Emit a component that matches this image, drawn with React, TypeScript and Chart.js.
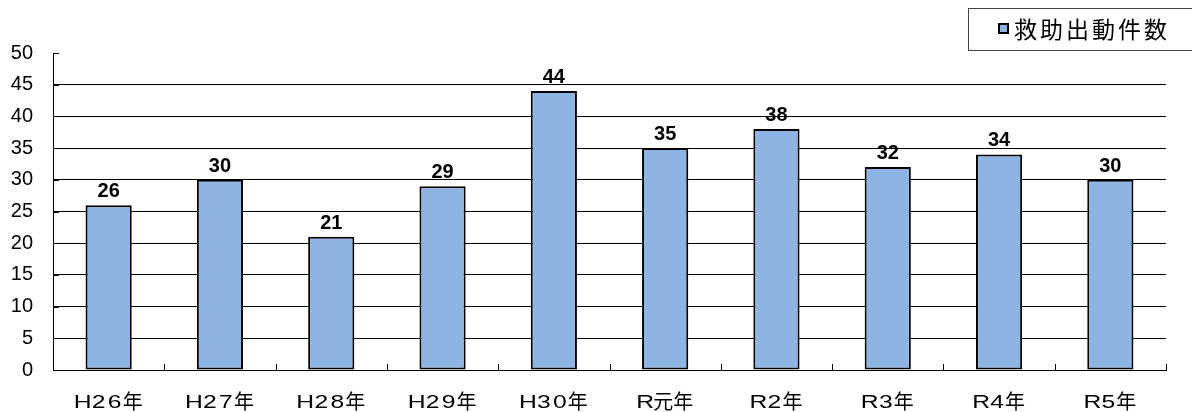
import React, { useEffect, useRef } from "react";
import { Chart, registerables } from "chart.js";

Chart.register(...registerables);

const categories = ["H26年", "H27年", "H28年", "H29年", "H30年", "R元年", "R2年", "R3年", "R4年", "R5年"];
const rescueCounts = [26, 30, 21, 29, 44, 35, 38, 32, 34, 30];
const seriesName = "救助出動件数";
const yMin = 0;
const yMax = 50;
const yStep = 5;

const FONT_LATIN = "'Liberation Sans', Arial, sans-serif";
const FONT_JP = "'Noto Sans CJK JP', sans-serif";

function drawSpacedLabel(ctx: any, text: string, cx: number, cy: number) {
  const chars = Array.from(text);
  const isAscii = chars.map((c) => c.charCodeAt(0) < 128);
  const adv = isAscii.map((a) => (a ? 16 : 20));
  const total = adv.reduce((a, b) => a + b, 0);
  let x = cx - total / 2;
  ctx.textAlign = "center";
  ctx.textBaseline = "alphabetic";
  chars.forEach((c, i) => {
    const mid = x + adv[i] / 2;
    if (isAscii[i]) {
      ctx.save();
      ctx.font = `19px ${FONT_LATIN}`;
      ctx.translate(mid, cy + 7);
      ctx.scale(1.3, 1);
      ctx.fillText(c, 0, 0);
      ctx.restore();
    } else {
      ctx.font = `20px ${FONT_JP}`;
      ctx.fillText(c, mid, cy + 8);
    }
    x += adv[i];
  });
}

const extrasPlugin = {
  id: "extras",
  afterDatasetsDraw(chart: any) {
    const ctx = chart.ctx;
    const area = chart.chartArea;
    const xs = chart.scales.x;
    const ys = chart.scales.y;
    ctx.save();
    // inner tick marks
    ctx.strokeStyle = "#000";
    ctx.lineWidth = 1;
    ctx.beginPath();
    for (let v = yMin; v <= yMax; v += yStep) {
      const y = Math.round(ys.getPixelForValue(v)) + 0.5;
      ctx.moveTo(area.left, y);
      ctx.lineTo(area.left + 6, y);
    }
    const n = categories.length;
    for (let i = 1; i <= n; i++) {
      const x = Math.round(area.left + ((area.right - area.left) * i) / n) + 0.5;
      ctx.moveTo(x, area.bottom);
      ctx.lineTo(x, area.bottom - 6);
    }
    ctx.stroke();
    // x labels
    ctx.fillStyle = "#000";
    categories.forEach((c, i) => {
      drawSpacedLabel(ctx, c, xs.getPixelForValue(i), 401);
    });
    // data labels
    const meta = chart.getDatasetMeta(0);
    ctx.font = `bold 20px ${FONT_LATIN}`;
    ctx.textAlign = "center";
    ctx.textBaseline = "alphabetic";
    meta.data.forEach((bar: any, i: number) => {
      ctx.fillText(String(rescueCounts[i]), bar.x, bar.y - 8);
    });
    // legend box
    const bx = 968, by = 8, bw = 230, bh = 42;
    ctx.strokeStyle = "#444";
    ctx.lineWidth = 1;
    ctx.strokeRect(bx + 0.5, by + 0.5, bw, bh);
    ctx.fillStyle = "#8EB4E3";
    ctx.fillRect(999, 24, 9, 9);
    ctx.strokeStyle = "#000";
    ctx.lineWidth = 2;
    ctx.strokeRect(999, 24, 9, 9);
    ctx.fillStyle = "#000";
    ctx.font = `23px ${FONT_JP}`;
    (ctx as any).letterSpacing = "3px";
    ctx.textAlign = "left";
    ctx.textBaseline = "middle";
    ctx.fillText(seriesName, 1014, 29);
    (ctx as any).letterSpacing = "0px";
    ctx.restore();
  },
};

export default function App() {
  const ref = useRef<HTMLCanvasElement | null>(null);
  useEffect(() => {
    document.body.style.margin = "0";
    const chart = new Chart(ref.current as HTMLCanvasElement, {
      type: "bar",
      data: {
        labels: categories,
        datasets: [
          {
            label: seriesName,
            data: rescueCounts,
            backgroundColor: "#8EB4E3",
            borderColor: "#000",
            borderWidth: 2,
            borderSkipped: false,
            barPercentage: 0.415,
            categoryPercentage: 1,
          },
        ],
      },
      options: {
        animation: false,
        responsive: false,
        maintainAspectRatio: false,
        layout: { padding: { top: 53, right: 26, left: 0, bottom: 0 } },
        plugins: { legend: { display: false }, tooltip: { enabled: false } },
        scales: {
          x: {
            afterFit: (s: any) => {
              s.height = 42;
            },
            grid: { display: false, drawTicks: false },
            border: { display: true, color: "#000", width: 1 },
            ticks: { display: false },
          },
          y: {
            min: yMin,
            max: yMax,
            afterFit: (s: any) => {
              s.width = 53;
            },
            grid: {
              color: (c: any) => (c.tick && c.tick.value === yMax ? "rgba(0,0,0,0)" : "#000"),
              lineWidth: 1,
              drawTicks: false,
            },
            border: { display: true, color: "#000", width: 1 },
            ticks: {
              stepSize: yStep,
              color: "#000",
              padding: 20,
              font: { family: FONT_LATIN, size: 20 },
            },
          },
        },
      },
      plugins: [extrasPlugin],
    });
    return () => chart.destroy();
  }, []);
  return (
    <div style={{ width: 1192, height: 412 }}>
      <canvas ref={ref} width={1192} height={412} style={{ width: 1192, height: 412, display: "block" }} />
    </div>
  );
}
